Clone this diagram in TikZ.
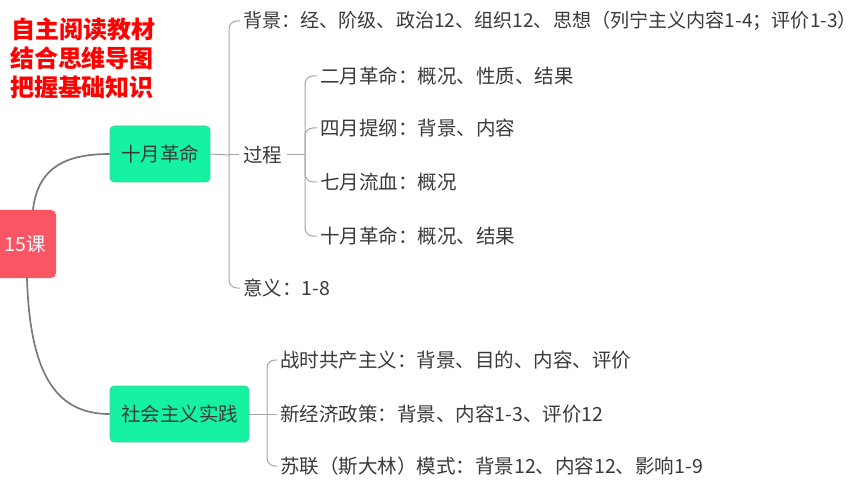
\documentclass[tikz,border=0pt]{standalone}
\usepackage{fontspec}
\setmainfont{Noto Sans CJK SC}
\definecolor{topicgreen}{HTML}{14F2A2}
\definecolor{topicedge}{HTML}{4CCB98}
\definecolor{rootred}{HTML}{FA5564}
\definecolor{txt}{HTML}{3A3A3A}
\definecolor{mainline}{HTML}{7A7A7A}
\definecolor{brline}{HTML}{A6A6A6}
\begin{document}
\begin{tikzpicture}[x=1pt,y=-1pt,
  mainconn/.style={draw=mainline,line width=1.7pt},
  brk/.style={draw=brline,line width=1pt,rounded corners=8pt},
  topic/.style={rounded corners=4pt,fill=topicgreen,draw=topicedge,line width=0.6pt,
    minimum height=56pt,inner sep=0pt,text=txt,font=\fontsize{19.5}{22}\selectfont},
  rootbox/.style={rounded corners=5pt,fill=rootred,minimum width=62pt,minimum height=68pt,
    inner sep=0pt,text=white,font=\fontsize{19.5}{22}\selectfont},
  leaf/.style={anchor=west,inner sep=0pt,text=txt,font=\fontsize{19.5}{22}\selectfont},
  note/.style={inner sep=0pt,text=red,font=\bfseries\fontsize{24}{26}\selectfont}]
\fill[white] (0,0) rectangle (860,484);
\useasboundingbox (0,0) rectangle (860,484);

% red notes
\node[note] (n1) at (84,29) {自主阅读教材};
\node[note] (n2) at (82,58) {结合思维导图};
\node[note] (n3) at (82,87) {把握基础知识};

% nodes
\node[rootbox] (root) at (25,244) {15课};
\node[topic,minimum width=100pt] (sy) at (160,154) {十月革命};
\node[topic,minimum width=139pt] (sh) at (179.5,414) {社会主义实践};

\node[leaf,font=\fontsize{19.1}{22}\selectfont] (bg) at (243,21) {背景：经、阶级、政治12、组织12、思想（列宁主义内容1-4；评价1-3）};
\node[leaf] (gc) at (243,155) {过程};
\node[leaf] (yy) at (243,288) {意义：1-8};
\node[leaf] (e1) at (320,76) {二月革命：概况、性质、结果};
\node[leaf] (e2) at (320,128) {四月提纲：背景、内容};
\node[leaf] (e3) at (320,182) {七月流血：概况};
\node[leaf] (e4) at (320,236) {十月革命：概况、结果};
\node[leaf] (s1) at (280,360) {战时共产主义：背景、目的、内容、评价};
\node[leaf] (s2) at (280,414) {新经济政策：背景、内容1-3、评价12};
\node[leaf] (s3) at (280,466) {苏联（斯大林）模式：背景12、内容12、影响1-9};

\coordinate (j1) at (229,155);
\coordinate (j2) at (305,155);
\coordinate (j3) at (267,414);

% main connectors
\draw[mainconn] ([xshift=8pt]root.north) .. controls +(5,-45) and +(-40,0) .. (sy.west);
\draw[mainconn] ([xshift=2pt]root.south) .. controls +(3,102) and +(-50,0) .. (sh.west);

% bracket 1
\draw[brk] (sy.east) -- (j1);
\draw[brk] (j1) |- ([xshift=-3pt]bg.west);
\draw[brk] (j1) -- ([xshift=-4pt]gc.west);
\draw[brk] (j1) |- ([xshift=-3pt]yy.west);
% bracket 2
\draw[brk] ([xshift=5pt]gc.east) -- (j2);
\draw[brk] (j2) |- ([xshift=-3pt]e1.west);
\draw[brk] (j2) |- ([xshift=-3pt]e2.west);
\draw[brk] (j2) |- ([xshift=-3pt]e3.west);
\draw[brk] (j2) |- ([xshift=-3pt]e4.west);
% bracket 3
\draw[brk] (sh.east) -- (j3);
\draw[brk] (j3) |- ([xshift=-3pt]s1.west);
\draw[brk] (j3) -- ([xshift=-3pt]s2.west);
\draw[brk] (j3) |- ([xshift=-3pt]s3.west);
\end{tikzpicture}
\end{document}
